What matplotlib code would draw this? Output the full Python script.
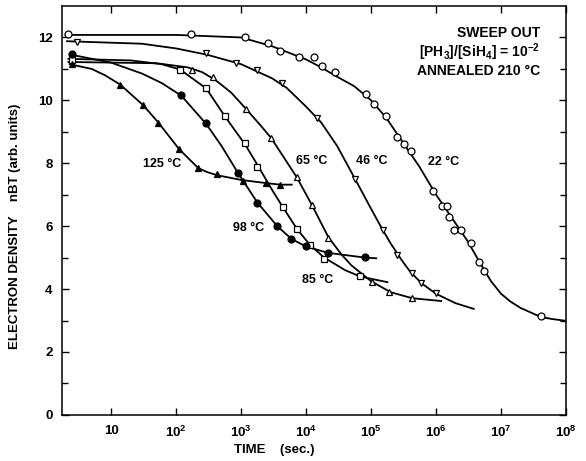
import numpy as np
import matplotlib
matplotlib.use("Agg")
import matplotlib.pyplot as plt
from matplotlib.ticker import NullLocator, FixedLocator

plt.rcParams['font.family'] = ['Liberation Sans', 'DejaVu Sans']
plt.rcParams['font.weight'] = 'bold'
plt.rcParams['mathtext.fontset'] = 'custom'
plt.rcParams['mathtext.rm'] = 'Liberation Sans:bold'
plt.rcParams['mathtext.it'] = 'Liberation Sans:bold'
plt.rcParams['mathtext.bf'] = 'Liberation Sans:bold'
plt.rcParams['mathtext.default'] = 'rm'

# ---- measured points (time in s, density in arb. units) ----
t22 = [2.2, 170, 1150, 2600, 4000, 7800, 13000, 17800, 28000, 83000, 112000,
       170000, 251000, 324000, 415000, 890000, 1.23e6, 1.47e6, 1.6e6, 1.9e6,
       2.4e6, 3.4e6, 4.5e6, 5.5e6, 4.1e7]
n22 = [12.1, 12.1, 12.0, 11.81, 11.56, 11.37, 11.37, 11.1, 10.9, 10.2, 9.9,
       9.49, 8.83, 8.6, 8.38, 7.11, 6.63, 6.63, 6.29, 5.87,
       5.87, 5.46, 4.86, 4.57, 3.14]

t46 = [3.0, 290, 835, 1780, 4200, 14800, 56000, 152000, 251000, 430000, 590000, 1.0e6]
n46 = [11.87, 11.49, 11.2, 10.98, 10.54, 9.43, 7.49, 5.87, 5.08, 4.51, 4.19, 3.87]

t65 = [176, 370, 1200, 2900, 7200, 12300, 22000, 104000, 190000, 430000]
n65 = [10.98, 10.73, 9.71, 8.79, 7.56, 6.67, 5.62, 4.22, 3.9, 3.71]

t85 = [2.5, 115, 290, 560, 1150, 1780, 4400, 7300, 11500, 19000, 68000]
n85 = [11.27, 10.98, 10.38, 9.49, 8.63, 7.87, 6.6, 5.9, 5.4, 4.95, 4.41]

t98 = [2.5, 120, 290, 890, 1780, 3600, 5900, 10000, 22000, 81000]
n98 = [11.47, 10.16, 9.27, 7.68, 6.73, 6.0, 5.59, 5.37, 5.14, 5.02]

t125 = [2.5, 13.8, 31, 53, 111, 218, 427, 1070, 2400, 4000]
n125 = [11.17, 10.5, 9.84, 9.27, 8.44, 7.84, 7.65, 7.43, 7.37, 7.3]

# ---- hand-drawn fit curves ----
c22_t = [2.0, 100, 1000, 3000, 1e4, 1.7e4, 3e4, 5.5e4, 1e5, 1.7e5, 3e5, 5.5e5,
         1e6, 1.7e6, 3e6, 5e6, 7e6, 1e7, 1.4e7, 2e7, 4e7, 6e7, 1e8]
c22_n = [12.08, 12.08, 12.0, 11.72, 11.3, 11.05, 10.75, 10.45, 10.0, 9.45, 8.7, 7.9,
         7.0, 6.3, 5.55, 4.75, 4.25, 3.85, 3.6, 3.4, 3.12, 3.05, 2.99]

c46_t = [2.1, 30, 100, 300, 1000, 3000, 5000, 1e4, 1.7e4, 3e4, 5.5e4, 1e5, 1.4e5,
         2e5, 3e5, 4e5, 6e5, 1e6, 2e6, 3.8e6]
c46_n = [11.88, 11.8, 11.65, 11.45, 11.15, 10.7, 10.4, 9.8, 9.3, 8.55, 7.55, 6.55, 6.0,
         5.45, 4.9, 4.55, 4.18, 3.85, 3.55, 3.37]

c65_t = [2.2, 50, 150, 250, 400, 700, 1200, 2000, 2900, 4500, 7200, 12300, 22000,
         35000, 5e4, 1e5, 2e5, 4.3e5, 1.2e6]
c65_n = [11.22, 11.18, 11.05, 10.9, 10.65, 10.25, 9.72, 9.2, 8.8, 8.2, 7.55, 6.67, 5.65,
         5.1, 4.75, 4.25, 3.9, 3.71, 3.62]

c85_t = [2.2, 20, 60, 115, 290, 560, 800, 1150, 1780, 3000, 4400, 7300, 11500, 19000,
         40000, 68000, 178000]
c85_n = [11.32, 11.27, 11.15, 10.98, 10.38, 9.5, 9.05, 8.6, 7.95, 7.15, 6.6, 5.9, 5.4,
         5.0, 4.6, 4.4, 4.22]

c98_t = [2.3, 10, 30, 60, 120, 290, 500, 890, 1780, 3600, 5900, 10000, 22000, 81000, 120000]
c98_n = [11.46, 11.2, 10.85, 10.55, 10.15, 9.25, 8.55, 7.7, 6.75, 6.0, 5.6, 5.35, 5.15, 5.0, 4.98]

c125_t = [2.3, 5, 8, 13.8, 31, 53, 111, 218, 300, 427, 1000, 2400, 4000, 6000]
c125_n = [11.15, 11.0, 10.8, 10.5, 9.85, 9.3, 8.45, 7.85, 7.72, 7.62, 7.47, 7.37, 7.32, 7.32]

curve_labels = ['22 °C', '46 °C', '65 °C', '85 °C', '98 °C', '125 °C']
label_t = [1.3e6, 1.04e5, 1.23e4, 1.5e4, 1320, 61]
label_n = [8.03, 8.06, 8.06, 4.29, 5.94, 7.97]

fig = plt.figure(figsize=(5.86, 4.61), dpi=100)
ax = fig.add_axes([0.106, 0.100, 0.860, 0.887])

series = [
    (t22, n22, c22_t, c22_n, 'o', 'white'),
    (t46, n46, c46_t, c46_n, 'v', 'white'),
    (t65, n65, c65_t, c65_n, '^', 'white'),
    (t85, n85, c85_t, c85_n, 's', 'white'),
    (t98, n98, c98_t, c98_n, 'o', 'black'),
    (t125, n125, c125_t, c125_n, '^', 'black'),
]
for tp, npts, ct, cn, mk, fc in series:
    ax.plot(ct, cn, '-', color='black', lw=1.3, zorder=2, solid_joinstyle='round')
    ax.plot(tp, npts, ls='none', marker=mk, ms=5, mfc=fc, mec='black',
            mew=0.9, zorder=3)

for lab, x, y in zip(curve_labels, label_t, label_n):
    ax.text(x, y, lab, ha='center', va='center', fontsize=9, fontweight='bold')

ax.text(0.948, 0.934, 'SWEEP OUT', transform=ax.transAxes, ha='right',
        va='center', fontsize=10, fontweight='bold')
ax.text(0.948, 0.888, r'[PH$_3$]/[SiH$_4$] = 10$^{\mathrm{-2}}$', transform=ax.transAxes,
        ha='right', va='center', fontsize=10, fontweight='bold')
ax.text(0.948, 0.841, 'ANNEALED 210 °C', transform=ax.transAxes, ha='right',
        va='center', fontsize=10, fontweight='bold')

ax.set_xscale('log')
ax.set_xlim(1.76, 1e8)
ax.set_ylim(0, 13)

xt = [10, 1e2, 1e3, 1e4, 1e5, 1e6, 1e7, 1e8]
ax.xaxis.set_major_locator(FixedLocator(xt))
ax.xaxis.set_minor_locator(NullLocator())
ax.set_xticklabels(['10'] + [r'$10^{%d}$' % k for k in range(2, 9)])
ax.set_yticks([0, 2, 4, 6, 8, 10, 12])
ax.set_yticks([1, 3, 5, 7, 9, 11], minor=True)

ax.tick_params(which='both', direction='in', top=True, right=True,
               labelsize=9.5, width=1.0)
ax.tick_params(which='major', length=5, pad=7)
ax.tick_params(which='minor', length=4)
for lab in ax.get_xticklabels() + ax.get_yticklabels():
    lab.set_fontweight('bold')
for sp in ax.spines.values():
    sp.set_linewidth(1.1)

ax.set_xlabel('TIME    (sec.)', fontsize=9.5, fontweight='bold', labelpad=4)
ax.xaxis.set_label_coords(0.42, -0.072)
ax.set_ylabel('ELECTRON DENSITY    nBT (arb. units)', fontsize=9.5,
              fontweight='bold')
ax.yaxis.set_label_coords(-0.082, 0.462)

fig.savefig('out.png', dpi=100)
